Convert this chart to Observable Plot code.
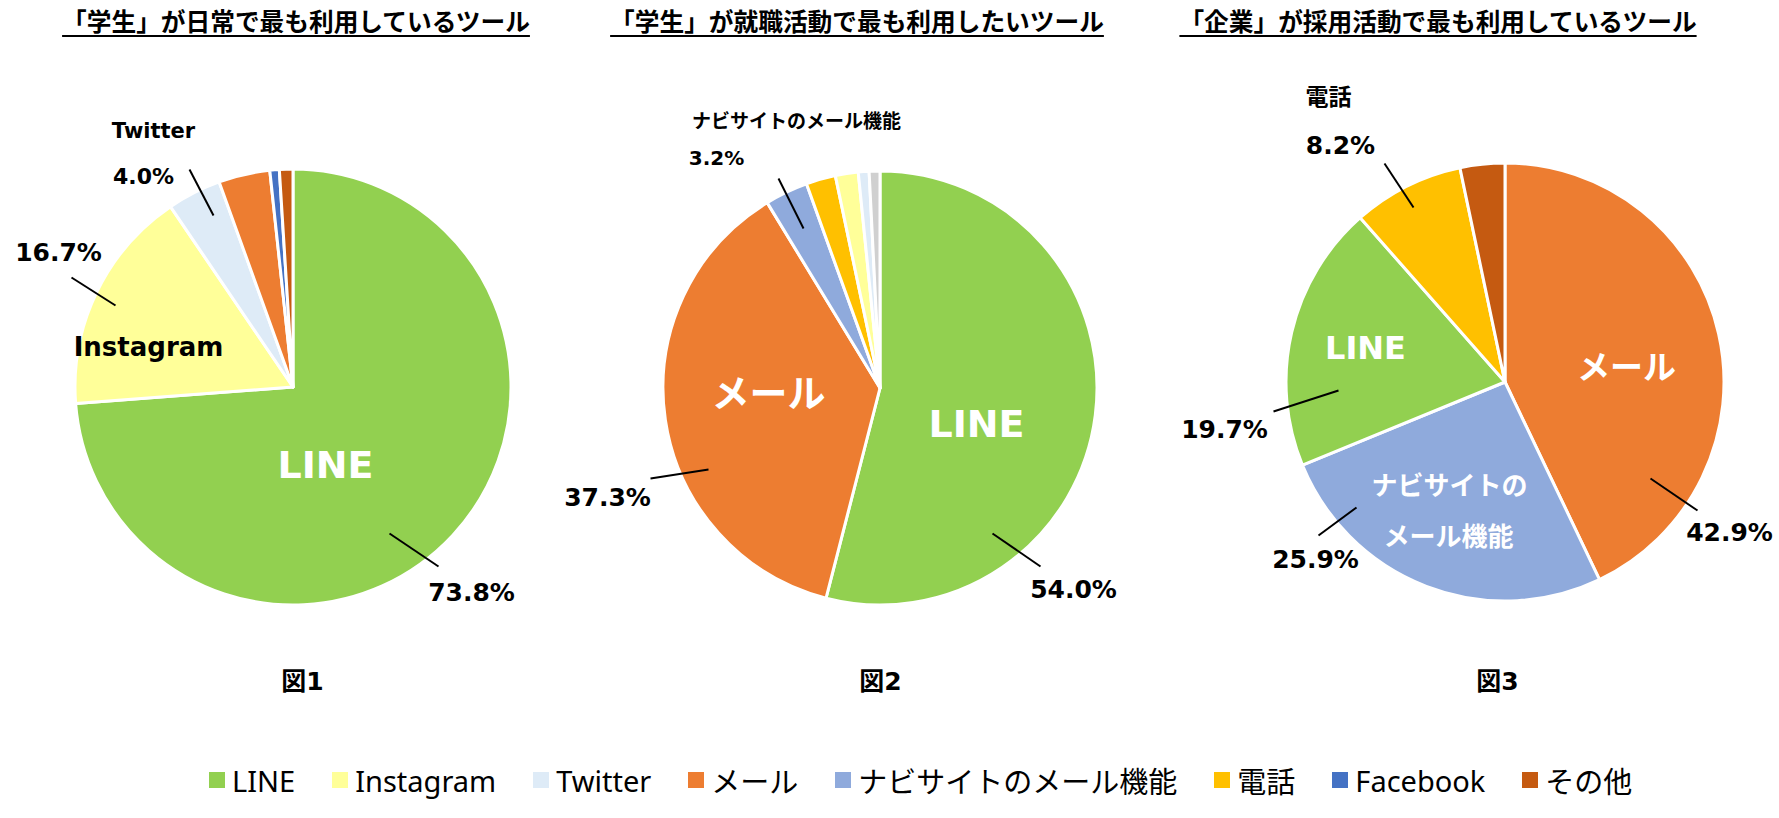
<!DOCTYPE html>
<html><head><meta charset="utf-8">
<script src="https://cdn.jsdelivr.net/npm/d3@7"></script>
<script src="https://cdn.jsdelivr.net/npm/@observablehq/plot@0.6"></script>
<style>
html,body{margin:0;padding:0;background:#fff;}
#page{position:relative;width:1779px;height:818px;overflow:hidden;background:#fff;}
.title{position:absolute;top:6px;font-family:"Noto Sans CJK JP",sans-serif;font-weight:700;font-size:24.7px;line-height:28px;color:#000;text-decoration:underline;text-decoration-thickness:2px;text-underline-offset:4px;white-space:nowrap;transform:translateX(-50%);}
#chart{position:absolute;left:0;top:40px;}
#legend{position:absolute;top:760px;left:209px;display:flex;align-items:center;gap:37px;font-family:"Noto Sans","Noto Sans CJK JP",sans-serif;font-size:29px;color:#000;white-space:nowrap;height:40px;}
.item{display:flex;align-items:center;}
.sw{width:16px;height:16px;margin-right:7px;flex:none;}
</style></head><body><div id="page"></div>
<script>
// ---------------- DATA ----------------
const titles = ["「学生」が日常で最も利用しているツール", "「学生」が就職活動で最も利用したいツール", "「企業」が採用活動で最も利用しているツール"];
const figureLabels = ["図1", "図2", "図3"];

const chart1Categories = ["LINE", "Instagram", "Twitter", "メール", "Facebook", "その他"];
const chart1Values = [73.8, 16.7, 4.0, 3.8, 0.7, 1.0];

const chart2Categories = ["LINE", "メール", "ナビサイトのメール機能", "電話", "Instagram", "Twitter", "その他"];
const chart2Values = [54.0, 37.3, 3.2, 2.2, 1.7, 0.8, 0.8];

const chart3Categories = ["メール", "ナビサイトのメール機能", "LINE", "電話", "その他"];
const chart3Values = [42.9, 25.9, 19.7, 8.2, 3.3];

const legendCategories = ["LINE", "Instagram", "Twitter", "メール", "ナビサイトのメール機能", "電話", "Facebook", "その他"];

// ---------------- STYLE / LAYOUT ----------------
const legendColors = ["#92d050", "#ffff99", "#deebf7", "#ed7d31", "#8faadc", "#ffc000", "#4472c4", "#c55a11"];
const chartColorOverrides = [{}, {"その他": "#d0d0d0"}, {}];
const colorScale = Plot.scale({color: {type: "ordinal", domain: legendCategories, range: legendColors}});

const charts = [
  {cats: chart1Categories, vals: chart1Values},
  {cats: chart2Categories, vals: chart2Values},
  {cats: chart3Categories, vals: chart3Values}
];

// page-pixel layout
const pieLayout = [{cx: 293, cy: 387, r: 218}, {cx: 880, cy: 388, r: 217}, {cx: 1505, cy: 382, r: 219}];
const titleCenters = [296, 857, 1438];
const figLabelPos = [[302, 681], [880, 681], [1497, 681]];

// label placement: chart, category, kind (name/value/name1/name2), x, y, size, colour
const labelLayout = [
  {c: 0, cat: "Twitter", kind: "name", x: 153, y: 131, s: 21, f: "#000"},
  {c: 0, cat: "Twitter", kind: "value", x: 143, y: 176, s: 22, f: "#000"},
  {c: 0, cat: "Instagram", kind: "value", x: 58, y: 252, s: 25, f: "#000"},
  {c: 0, cat: "Instagram", kind: "name", x: 148, y: 347, s: 26, f: "#000"},
  {c: 0, cat: "LINE", kind: "name", x: 325, y: 465, s: 38, f: "#fff"},
  {c: 0, cat: "LINE", kind: "value", x: 471, y: 592, s: 25, f: "#000"},
  {c: 1, cat: "ナビサイトのメール機能", kind: "name", x: 796, y: 121, s: 19, f: "#000"},
  {c: 1, cat: "ナビサイトのメール機能", kind: "value", x: 716, y: 158, s: 20, f: "#000"},
  {c: 1, cat: "メール", kind: "name", x: 768, y: 394, s: 38, f: "#fff"},
  {c: 1, cat: "LINE", kind: "name", x: 976, y: 424, s: 38, f: "#fff"},
  {c: 1, cat: "メール", kind: "value", x: 607, y: 497, s: 25, f: "#000"},
  {c: 1, cat: "LINE", kind: "value", x: 1073, y: 589, s: 25, f: "#000"},
  {c: 2, cat: "電話", kind: "name", x: 1328, y: 97, s: 23, f: "#000"},
  {c: 2, cat: "電話", kind: "value", x: 1340, y: 145, s: 25, f: "#000"},
  {c: 2, cat: "LINE", kind: "name", x: 1365, y: 348, s: 32, f: "#fff"},
  {c: 2, cat: "メール", kind: "name", x: 1626, y: 368, s: 33, f: "#fff"},
  {c: 2, cat: "LINE", kind: "value", x: 1224, y: 429, s: 25, f: "#000"},
  {c: 2, cat: "ナビサイトのメール機能", kind: "name1", x: 1449, y: 486, s: 26, f: "#fff"},
  {c: 2, cat: "ナビサイトのメール機能", kind: "name2", x: 1448, y: 537, s: 26, f: "#fff"},
  {c: 2, cat: "ナビサイトのメール機能", kind: "value", x: 1315, y: 559, s: 25, f: "#000"},
  {c: 2, cat: "メール", kind: "value", x: 1729, y: 532, s: 25, f: "#000"}
];
const leaderLayout = [
  {x1: 189, y1: 169, x2: 213, y2: 215},
  {x1: 71, y1: 277, x2: 115, y2: 305},
  {x1: 389, y1: 533, x2: 438, y2: 566},
  {x1: 778, y1: 178, x2: 803, y2: 228},
  {x1: 650, y1: 478, x2: 708, y2: 469},
  {x1: 992, y1: 533, x2: 1040, y2: 566},
  {x1: 1384, y1: 163, x2: 1413, y2: 207},
  {x1: 1273, y1: 411, x2: 1338, y2: 390},
  {x1: 1318, y1: 535, x2: 1356, y2: 507},
  {x1: 1650, y1: 478, x2: 1697, y2: 510}
];

function labelText(l) {
  const ch = charts[l.c];
  const i = ch.cats.indexOf(l.cat);
  if (l.kind === "value") return ch.vals[i].toFixed(1) + "%";
  if (l.kind === "name1") return l.cat.slice(0, 6);
  if (l.kind === "name2") return l.cat.slice(6);
  return l.cat;
}

function pieMark(ci) {
  return function(...args) {
    const scales = args.find(a => a && typeof a === "object" && typeof a.x === "function" && typeof a.y === "function");
    const p = pieLayout[ci];
    const X = scales ? scales.x : (v => v);
    const Y = scales ? scales.y : (v => v - 40);
    const cx = X(p.cx), cy = Y(p.cy);
    const r = Math.abs(X(p.cx + p.r) - cx);
    const data = charts[ci].cats.map((c, i) => ({category: c, value: charts[ci].vals[i]}));
    const arcs = d3.pie().sort(null).value(d => d.value)(data);
    const arc = d3.arc().innerRadius(0).outerRadius(r);
    const g = d3.create("svg:g").attr("transform", `translate(${cx},${cy})`);
    g.selectAll("path").data(arcs).join("path")
      .attr("d", arc)
      .attr("fill", d => chartColorOverrides[ci][d.data.category] ?? colorScale.apply(d.data.category))
      .attr("stroke", "#fff").attr("stroke-width", 3).attr("stroke-linejoin", "round");
    return g.node();
  };
}

const FONT = '"DejaVu Sans", "Noto Sans CJK JP", sans-serif';
const labels = labelLayout.map(l => ({...l, text: labelText(l)}));
const figLabels = figureLabels.map((t, i) => ({text: t, x: figLabelPos[i][0], y: figLabelPos[i][1]}));

const plot = Plot.plot({
  width: 1779,
  height: 708,
  margin: 0,
  x: {domain: [0, 1779], range: [0, 1779], axis: null},
  y: {domain: [40, 748], range: [0, 708], axis: null},
  style: {background: "#fff", overflow: "visible"},
  marks: [
    pieMark(0), pieMark(1), pieMark(2),
    Plot.link(leaderLayout, {x1: "x1", y1: "y1", x2: "x2", y2: "y2", stroke: "#000", strokeWidth: 2}),
    ...labels.map(l => Plot.text([l], {x: "x", y: "y", text: "text", fill: l.f, fontSize: l.s, fontWeight: "bold", fontFamily: FONT})),
    Plot.text(figLabels, {x: "x", y: "y", text: "text", fill: "#000", fontSize: 25, fontWeight: "bold", fontFamily: FONT})
  ]
});

const page = document.getElementById("page");
titles.forEach((t, i) => {
  const d = document.createElement("div");
  d.className = "title";
  d.style.left = titleCenters[i] + "px";
  d.textContent = t;
  page.appendChild(d);
});
const holder = document.createElement("div");
holder.id = "chart";
holder.appendChild(plot);
page.appendChild(holder);

const legend = document.createElement("div");
legend.id = "legend";
legendCategories.forEach((c) => {
  const it = document.createElement("div");
  it.className = "item";
  const sw = document.createElement("span");
  sw.className = "sw";
  sw.style.background = colorScale.apply(c);
  const tx = document.createElement("span");
  tx.textContent = c;
  it.appendChild(sw); it.appendChild(tx);
  legend.appendChild(it);
});
page.appendChild(legend);
</script></body></html>
